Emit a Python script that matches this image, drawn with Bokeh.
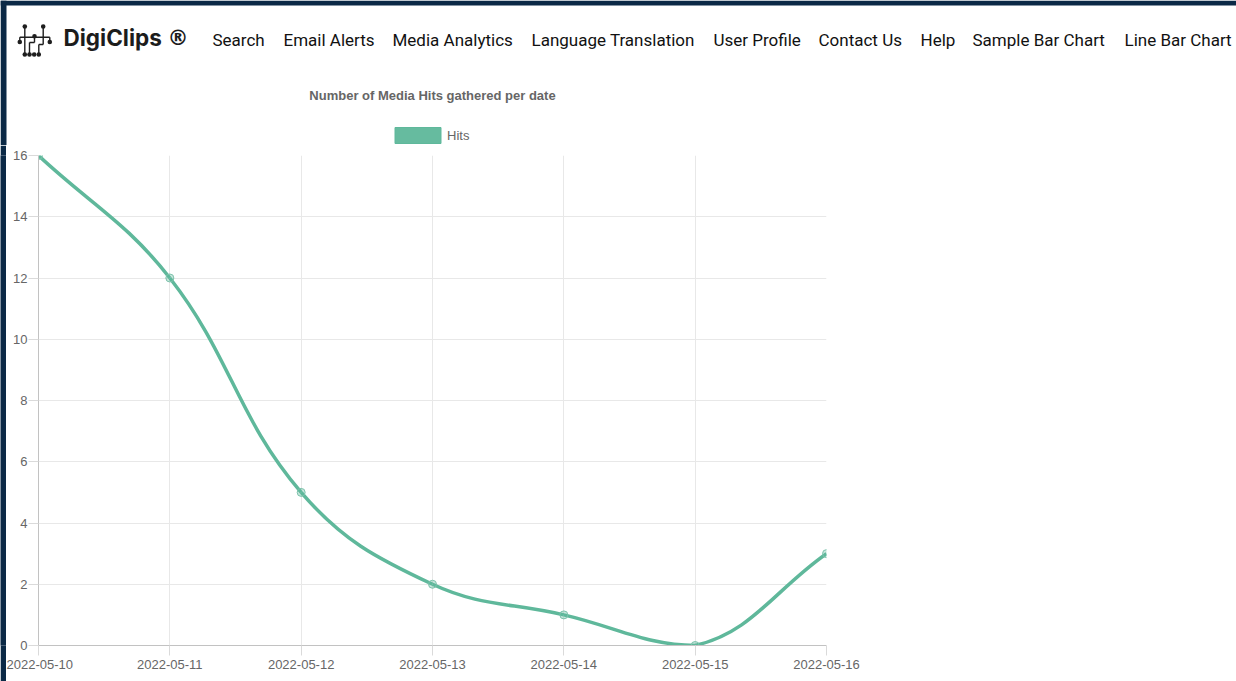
import math
from bokeh.plotting import figure
from bokeh.layouts import column, row
from bokeh.models import Range1d, FixedTicker, ColumnDataSource
from bokeh.embed import file_html
from bokeh.resources import INLINE
from bokeh.core.properties import value

# ---------------- data ----------------
dates = ["2022-05-10", "2022-05-11", "2022-05-12", "2022-05-13",
         "2022-05-14", "2022-05-15", "2022-05-16"]
hits = [16, 12, 5, 2, 1, 0, 3]
y_ticks = [0, 2, 4, 6, 8, 10, 12, 14, 16]
series_name = "Hits"
chart_title = "Number of Media Hits gathered per date"
brand_name = "DigiClips"
brand_mark = "\u00ae"
nav_items = ["Search", "Email Alerts", "Media Analytics", "Language Translation",
             "User Profile", "Contact Us", "Help", "Sample Bar Chart", "Line Bar Chart"]

# ---------------- layout / style constants ----------------
W, H = 1236, 681
HDR_H = 145
STRIP_W = 6
FW, FH = 788, 490
GREEN = "#5fb89b"
GREY = "#666666"
NAVY = "#0b2946"
TICK_FONT = "Liberation Sans"
nav_x = [212, 283, 392, 531, 713, 818, 920, 972, 1124]   # left edge of each nav item
NAV_MID = 39

# ---------------- header (nav bar, chart title, legend) ----------------
hdr = figure(width=W, height=HDR_H, x_range=Range1d(0, W), y_range=Range1d(HDR_H, 0),
             output_backend="svg", toolbar_location=None,
             x_axis_location=None, y_axis_location=None, min_border=0)
hdr.xgrid.visible = False
hdr.ygrid.visible = False
hdr.outline_line_color = None
hdr.background_fill_color = "white"
hdr.border_fill_color = "white"

# dark window frame (top + left)
hdr.quad(left=[0], right=[W], top=[0], bottom=[5], fill_color=NAVY, line_color=None)
hdr.quad(left=[0], right=[STRIP_W], top=[0], bottom=[HDR_H], fill_color=NAVY, line_color=None)

# logo
logo_segs = dict(
    x0=[19.3, 19.3, 49.3, 24.3, 42.7, 42.7, 38.3, 29.0, 29.0, 34.0],
    y0=[36.7, 36.7, 36.7, 26.0, 26.0, 44.0, 44.0, 42.0, 42.0, 36.7],
    x1=[49.3, 19.3, 49.3, 24.3, 42.7, 38.3, 38.3, 29.0, 34.0, 34.0],
    y1=[36.7, 41.5, 41.5, 54.0, 44.0, 44.0, 54.0, 54.0, 42.0, 42.0],
)
hdr.segment(x0="x0", y0="y0", x1="x1", y1="y1", source=ColumnDataSource(logo_segs),
            line_color="#1e1e1e", line_width=1.4)
logo_dots_x = [24.3, 42.7, 34.0, 19.3, 49.3, 24.3, 29.0, 33.7, 38.3]
logo_dots_y = [26.0, 26.0, 35.8, 41.5, 41.5, 54.0, 54.0, 54.0, 54.0]
hdr.scatter(logo_dots_x, logo_dots_y, size=4.6, fill_color="#1e1e1e", line_color=None)

# brand and nav items
hdr.text(x=[63], y=[36.5], text=[brand_name], text_font=value("Inter"), text_font_style="bold",
         text_font_size="22.5px", text_color="#1c1c1c", text_baseline="middle", text_align="left")
hdr.text(x=[177.5], y=[37], text=[brand_mark], text_font=value("DejaVu Sans"), text_font_style="bold",
         text_font_size="21px", text_color="#1c1c1c", text_baseline="middle", text_align="center")
hdr.text(x=nav_x, y=[NAV_MID] * len(nav_items), text=nav_items, text_font=value("Roboto"),
         text_font_size="17px", text_color="#111111", text_baseline="middle", text_align="left")

# chart title
hdr.text(x=[432], y=[95], text=[chart_title], text_font=value(TICK_FONT), text_font_style="bold",
         text_font_size="13px", text_color=GREY, text_baseline="middle", text_align="center")

# legend (swatch + label)
hdr.quad(left=[394.5], right=[440.5], top=[127], bottom=[143], fill_color="#66bb9f",
         line_color=GREEN, line_width=1)
hdr.text(x=[446.5], y=[134.5], text=[series_name], text_font=value(TICK_FONT),
         text_font_size="13px", text_color=GREY, text_baseline="middle", text_align="left")

# ---------------- left dark strip beside the chart ----------------
strip = figure(width=STRIP_W, height=H - HDR_H, output_backend="svg", toolbar_location=None,
               x_axis_location=None, y_axis_location=None, min_border=0)
strip.xgrid.visible = False
strip.ygrid.visible = False
strip.outline_line_color = None
strip.background_fill_color = NAVY
strip.border_fill_color = NAVY

# ---------------- chart ----------------
xs = list(range(len(dates)))
x_min, x_max = 0, len(dates) - 1
y_min, y_max = y_ticks[0], y_ticks[-1]
CW, CH = W - STRIP_W, H - HDR_H
LEFT, TOP = 38 - STRIP_W, 155 - HDR_H

p = figure(frame_width=FW, frame_height=FH, width=CW, height=CH,
           output_backend="svg", toolbar_location=None,
           x_range=Range1d(x_min, x_max), y_range=Range1d(y_min, y_max),
           min_border_left=LEFT, min_border_right=CW - LEFT - FW,
           min_border_top=TOP, min_border_bottom=CH - TOP - FH)
p.outline_line_color = None
p.background_fill_color = "white"
p.border_fill_color = "white"

for ax in (p.xaxis[0], p.yaxis[0]):
    ax.axis_line_color = "#c2c2c2"
    ax.major_tick_line_color = "#dadada"
    ax.major_tick_in = 0
    ax.major_tick_out = 10
    ax.minor_tick_line_color = None
    ax.major_label_text_font = TICK_FONT
    ax.major_label_text_font_size = "13px"
    ax.major_label_text_color = GREY

p.xaxis.ticker = FixedTicker(ticks=xs)
p.xaxis.major_label_overrides = {i: d for i, d in enumerate(dates)}
p.xaxis.major_label_standoff = 4
p.yaxis.ticker = FixedTicker(ticks=y_ticks)
p.yaxis.major_label_standoff = 1

p.xgrid.ticker = FixedTicker(ticks=xs)
p.ygrid.ticker = FixedTicker(ticks=y_ticks)
p.grid.grid_line_color = "#e8e8e8"
p.grid.grid_line_width = 1

# smooth line (Chart.js-style tension spline through the data points)
tension = 0.4
kx = FW / (x_max - x_min)
ky = FH / (y_max - y_min)
pts = [((x - x_min) * kx, (y - y_min) * ky) for x, y in zip(xs, hits)]
n = len(pts)
cp_prev, cp_next = [], []

def clamp(q):
    return (min(max(q[0], 0), FW), min(max(q[1], 0), FH))

for i in range(n):
    cur = pts[i]
    prv = pts[i - 1] if i > 0 else cur
    nxt = pts[i + 1] if i < n - 1 else cur
    d01 = math.hypot(cur[0] - prv[0], cur[1] - prv[1])
    d12 = math.hypot(nxt[0] - cur[0], nxt[1] - cur[1])
    tot = d01 + d12
    s01 = d01 / tot if tot else 0
    s12 = d12 / tot if tot else 0
    fa, fb = tension * s01, tension * s12
    dx, dy = nxt[0] - prv[0], nxt[1] - prv[1]
    cp_prev.append(clamp((cur[0] - fa * dx, cur[1] - fa * dy)))
    cp_next.append(clamp((cur[0] + fb * dx, cur[1] + fb * dy)))

def to_dx(v):
    return v / kx + x_min

def to_dy(v):
    return v / ky + y_min

bz = ColumnDataSource(dict(
    x0=[xs[i] for i in range(n - 1)], y0=[hits[i] for i in range(n - 1)],
    x1=[xs[i + 1] for i in range(n - 1)], y1=[hits[i + 1] for i in range(n - 1)],
    cx0=[to_dx(cp_next[i][0]) for i in range(n - 1)], cy0=[to_dy(cp_next[i][1]) for i in range(n - 1)],
    cx1=[to_dx(cp_prev[i + 1][0]) for i in range(n - 1)], cy1=[to_dy(cp_prev[i + 1][1]) for i in range(n - 1)],
))
p.bezier(x0="x0", y0="y0", x1="x1", y1="y1", cx0="cx0", cy0="cy0", cx1="cx1", cy1="cy1",
         source=bz, line_color=GREEN, line_width=3.5)
p.scatter(xs, hits, size=8, fill_color=GREEN, fill_alpha=0.35, line_color="#7cc2ab", line_width=1)

layout = column(hdr, row(strip, p, spacing=0), spacing=0)
open("out.html", "w").write(file_html(layout, INLINE))
